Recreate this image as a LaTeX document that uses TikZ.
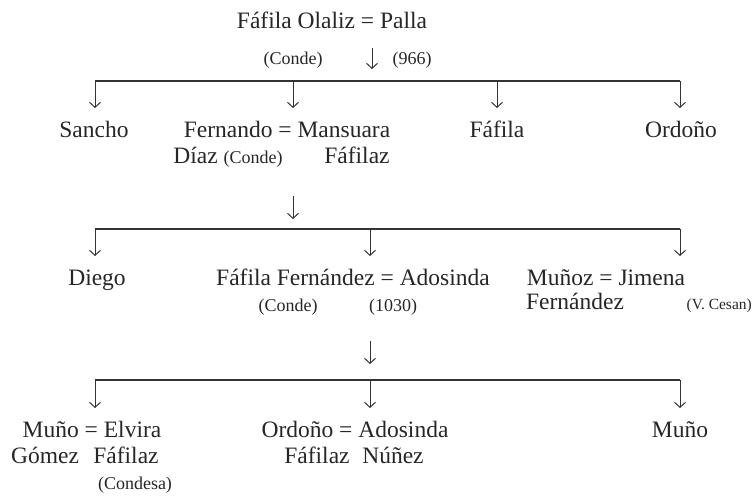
\documentclass[tikz,border=0pt]{standalone}
\usepackage{fontspec}
\setmainfont{Liberation Serif}
\usetikzlibrary{arrows.meta}
\newcommand\smallsz{\fontsize{18}{21}\selectfont}
\tikzset{
  big/.style={font=\fontsize{23.5}{27}\selectfont, inner sep=0pt, anchor=base, text=black!85},
  sml/.style={font=\smallsz, inner sep=0pt, anchor=base, text=black!85},
  bar/.style={line width=1.1pt, draw=black!80},
  desc/.style={line width=1pt, draw=black!80, -{Straight Barb[length=5pt,width=11pt,line width=1pt]}},
}
\begin{document}
\begin{tikzpicture}[x=1pt,y=-1pt]
\useasboundingbox (0,0) rectangle (753,501);
% generation 1
\node[big] (g1) at (332,28) {Fáfila Olaliz = Palla};
\node[sml] (g1c) at (293,64) {(Conde)};
\node[sml] (g1d) at (412,64) {(966)};
\coordinate (a1s) at (372,48);
\coordinate (a1e) at (372,69);
\draw[desc] (a1s) -- (a1e);
% bar 1
\coordinate (b1a) at (95,81);
\coordinate (b1b) at (293,81);
\coordinate (b1c) at (497,81);
\coordinate (b1d) at (680,81);
\draw[bar] (b1a) -- (b1d);
\coordinate (t1a) at (95,108);
\coordinate (t1b) at (293,108);
\coordinate (t1c) at (497,108);
\coordinate (t1d) at (680,108);
\draw[desc] (b1a) -- (t1a);
\draw[desc] (b1b) -- (t1b);
\draw[desc] (b1c) -- (t1c);
\draw[desc] (b1d) -- (t1d);
% generation 2
\node[big] (sancho) at (94,137) {Sancho};
\node[big] (fernando) at (287,137) {Fernando = Mansuara};
\node[big] (diaz) at (228,163) {Díaz {\smallsz (Conde)}};
\node[big] (mansfaf) at (357,163) {Fáfilaz};
\node[big] (fafila) at (497,137) {Fáfila};
\node[big] (ordono) at (681,137) {Ordoño};
\coordinate (a2s) at (293,196);
\coordinate (a2e) at (293,219);
\draw[desc] (a2s) -- (a2e);
% bar 2
\coordinate (b2a) at (95,229);
\coordinate (b2b) at (370,229);
\coordinate (b2c) at (680,229);
\draw[bar] (b2a) -- (b2c);
\coordinate (t2a) at (95,256);
\coordinate (t2b) at (370,256);
\coordinate (t2c) at (680,256);
\draw[desc] (b2a) -- (t2a);
\draw[desc] (b2b) -- (t2b);
\draw[desc] (b2c) -- (t2c);
% generation 3
\node[big] (diego) at (97,285) {Diego};
\node[big] (fafferr) at (353,285) {Fáfila Fernández = Adosinda};
\node[sml] (ffconde) at (288,311) {(Conde)};
\node[sml] (ff1030) at (393,311) {(1030)};
\node[big] (munoz) at (606,285) {Muñoz = Jimena};
\node[big] (munozf) at (575,309) {Fernández};
\node[sml, anchor=base east, font=\fontsize{15.5}{18}\selectfont] (jimcesan) at (752,309) {(V. Cesan)};
\coordinate (a3s) at (370,341);
\coordinate (a3e) at (370,364);
\draw[desc] (a3s) -- (a3e);
% bar 3
\coordinate (b3a) at (95,380);
\coordinate (b3b) at (370,380);
\coordinate (b3c) at (680,380);
\draw[bar] (b3a) -- (b3c);
\coordinate (t3a) at (95,408);
\coordinate (t3b) at (370,408);
\coordinate (t3c) at (680,408);
\draw[desc] (b3a) -- (t3a);
\draw[desc] (b3b) -- (t3b);
\draw[desc] (b3c) -- (t3c);
% generation 4
\node[big] (muno1) at (92,437) {Muño = Elvira};
\node[big] (gomez) at (45,463) {Gómez};
\node[big] (elvfaf) at (126,463) {Fáfilaz};
\node[sml] (condesa) at (135,489) {(Condesa)};
\node[big] (ordono2) at (355,437) {Ordoño = Adosinda};
\node[big] (ordfaf) at (317,463) {Fáfilaz};
\node[big] (adonun) at (393,463) {Núñez};
\node[big] (muno2) at (680,437) {Muño};
\end{tikzpicture}
\end{document}
